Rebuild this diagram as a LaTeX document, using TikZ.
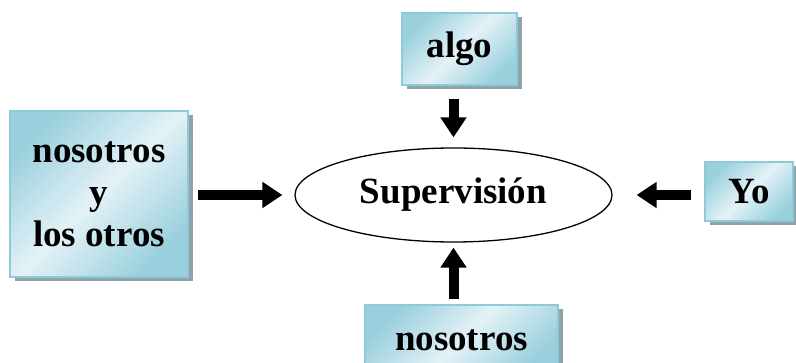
\documentclass[tikz,border=0pt]{standalone}
\usepackage{fontspec}
\setmainfont{Liberation Serif}
\usetikzlibrary{shadows,arrows.meta,shapes.geometric}
\definecolor{boxlight}{HTML}{E4F2F7}
\definecolor{boxdark}{HTML}{9AD0DD}
\definecolor{boxedge}{HTML}{8FCAD9}
\definecolor{shadowc}{HTML}{8FA3AB}
\tikzset{
  bluebox/.style={draw=boxedge, line width=1.2pt, top color=boxdark, bottom color=boxdark,
    middle color=boxlight, shading angle=45, inner sep=0pt, align=center,
    font=\fontsize{37}{42}\selectfont\bfseries,
    drop shadow={shadow xshift=4.5pt, shadow yshift=-4.5pt, fill=shadowc, opacity=1}},
  fatarrow/.style={line width=10pt, -{Triangle[width=25pt,length=20pt]}},
}
\begin{document}
\begin{tikzpicture}[x=1pt,y=-1pt]
\useasboundingbox (0,0) rectangle (796,363);
\node[bluebox, minimum width=178pt, minimum height=166pt] (left) at (99,194) {nosotros\\y\\los otros};
\node[bluebox, minimum width=115pt, minimum height=72pt] (algo) at (459.5,49) {algo};
\node[bluebox, minimum width=88pt, minimum height=59pt] (yo) at (749,191.5) {Yo};
\node[bluebox, minimum width=193pt, minimum height=70pt] (nos) at (461.5,340) {nosotros};
\node[draw, line width=1.3pt, ellipse, minimum width=317pt, minimum height=94pt, inner sep=0pt,
  font=\fontsize{37}{42}\selectfont\bfseries] (ell) at (453.5,195) {Supervisión};
\draw[fatarrow, shorten <=9pt, shorten >=12pt] (left.east |- ell.west) -- (ell.west);
\draw[fatarrow, shorten <=13pt, shorten >=10pt] (algo.south -| ell.north) -- (ell.north);
\draw[fatarrow, shorten <=13pt, shorten >=24pt] (yo.west |- ell.east) -- (ell.east);
\draw[fatarrow, shorten <=5pt, shorten >=5pt] (nos.north -| ell.south) -- (ell.south);
\end{tikzpicture}
\end{document}
